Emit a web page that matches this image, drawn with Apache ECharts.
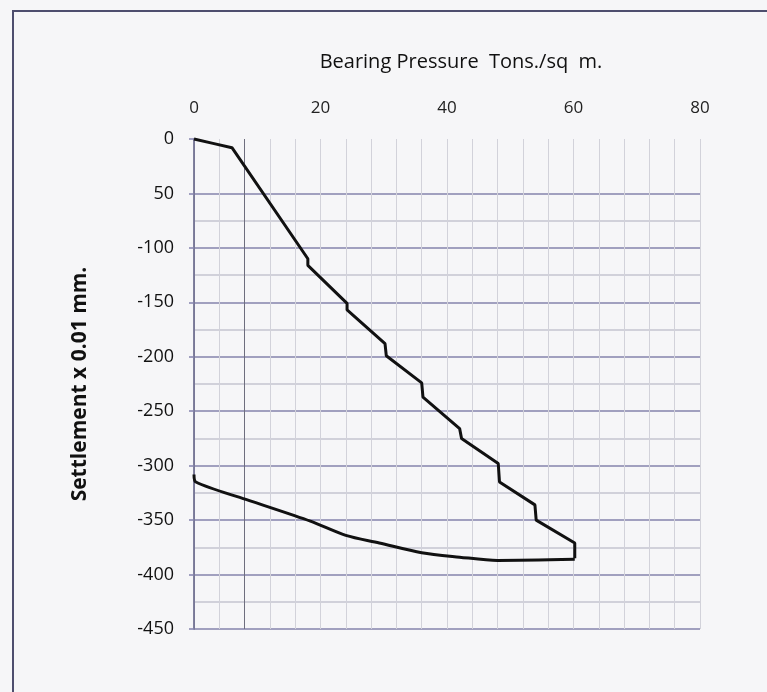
<!DOCTYPE html>
<html>
<head>
<meta charset="utf-8">
<script src="https://cdn.jsdelivr.net/npm/echarts@6/dist/echarts.min.js"></script>
<style>
html,body{margin:0;padding:0;background:#f6f6f8;}
#chart{width:767px;height:692px;}
</style>
</head>
<body>
<div id="chart"></div>
<script>
// ---- data ----
const loadPressure = [0, 3, 6, 18, 18, 24.2, 24.2, 30.2, 30.4, 36, 36.2, 42, 42.3, 48.1, 48.3, 53.9, 54.1, 60.2, 60.2];
const loadSettlement = [0, -4, -8, -110, -116, -151, -157, -188, -199, -224, -237, -266, -275, -298, -315, -336, -350, -371, -385];
const unloadPressure = [60.2, 48, 42, 36, 29.3, 24, 18.4, 8.2, 0.3, 0];
const unloadSettlement = [-386, -387, -384, -380, -371, -364, -351, -331, -315, -308];
const xTickLabels = ['0', '20', '40', '60', '80'];
const yTickLabels = ['0', '50', '-100', '-150', '-200', '-250', '-300', '-350', '-400', '-450'];
const xTitle = 'Bearing Pressure  Tons./sq  m.';
const yTitle = 'Settlement x 0.01 mm.';
const darkGridX = [8];

const loadPts = loadPressure.map((p, i) => [p, loadSettlement[i]]);
const unloadPts = unloadPressure.map((p, i) => [p, unloadSettlement[i]]);

// split line colour cycles (styling)
const yColors = [];
for (let v = -450; v <= 0; v += 25) {
  if (v >= -25) yColors.push('rgba(0,0,0,0)');
  else if (v % 50 === 0) yColors.push('#8483ad');
  else yColors.push('#c4c4d0');
}
const xColors = [];
for (let v = 0; v <= 80; v += 4) {
  xColors.push(darkGridX.indexOf(v) >= 0 ? '#6e6e7e' : '#d2d2da');
}

const chart = echarts.init(document.getElementById('chart'));
const fontFam = '"Open Sans", "Liberation Sans", sans-serif';
chart.setOption({
  backgroundColor: '#f6f6f8',
  animation: false,
  grid: { left: 194, right: 67, top: 139, bottom: 63, containLabel: false },
  xAxis: {
    type: 'value', position: 'top', min: 0, max: 80, interval: 4,
    axisLine: { show: false },
    axisTick: { show: false },
    axisLabel: {
      margin: 22, color: '#222', fontFamily: fontFam, fontSize: 17,
      formatter: v => (v % 20 === 0 ? xTickLabels[v / 20] : '')
    },
    splitLine: { show: true, lineStyle: { color: xColors, width: 1 } }
  },
  yAxis: [{
    type: 'value', min: -450, max: 0, interval: 25,
    axisLine: { show: true, onZero: false, lineStyle: { color: '#5a5a80', width: 1.5 } },
    axisTick: { show: false },
    axisLabel: {
      margin: 20, color: '#111', fontFamily: fontFam, fontSize: 18,
      formatter: v => (v % 50 === 0 ? yTickLabels[-v / 50] : '')
    },
    splitLine: { show: true, lineStyle: { color: yColors, width: 1.5 } }
  }, {
    type: 'value', min: -450, max: 0, interval: 50, position: 'left',
    axisLine: { show: false },
    axisTick: { show: true, length: 5, lineStyle: { color: '#8483ad', width: 1.5 } },
    axisLabel: { show: false },
    splitLine: { show: false }
  }],
  graphic: [
    { type: 'rect', shape: { x: 13, y: 11, width: 800, height: 720 },
      style: { fill: 'none', stroke: '#4e4e6e', lineWidth: 2 }, silent: true },
    { type: 'text', x: 461, y: 62,
      style: { text: xTitle, fill: '#111', font: '20px ' + fontFam, align: 'center', verticalAlign: 'middle' } },
    { type: 'text', x: 80, y: 384, rotation: Math.PI / 2,
      style: { text: yTitle, fill: '#111', font: 'bold 21px ' + fontFam, align: 'center', verticalAlign: 'middle' } }
  ],
  series: [{
    type: 'line', data: loadPts, showSymbol: false, smooth: false,
    lineStyle: { color: '#111', width: 3 }, clip: false
  }, {
    type: 'line', data: unloadPts, showSymbol: false, smooth: 0.3,
    lineStyle: { color: '#111', width: 3 }, clip: false
  }]
});
</script>
</body>
</html>
